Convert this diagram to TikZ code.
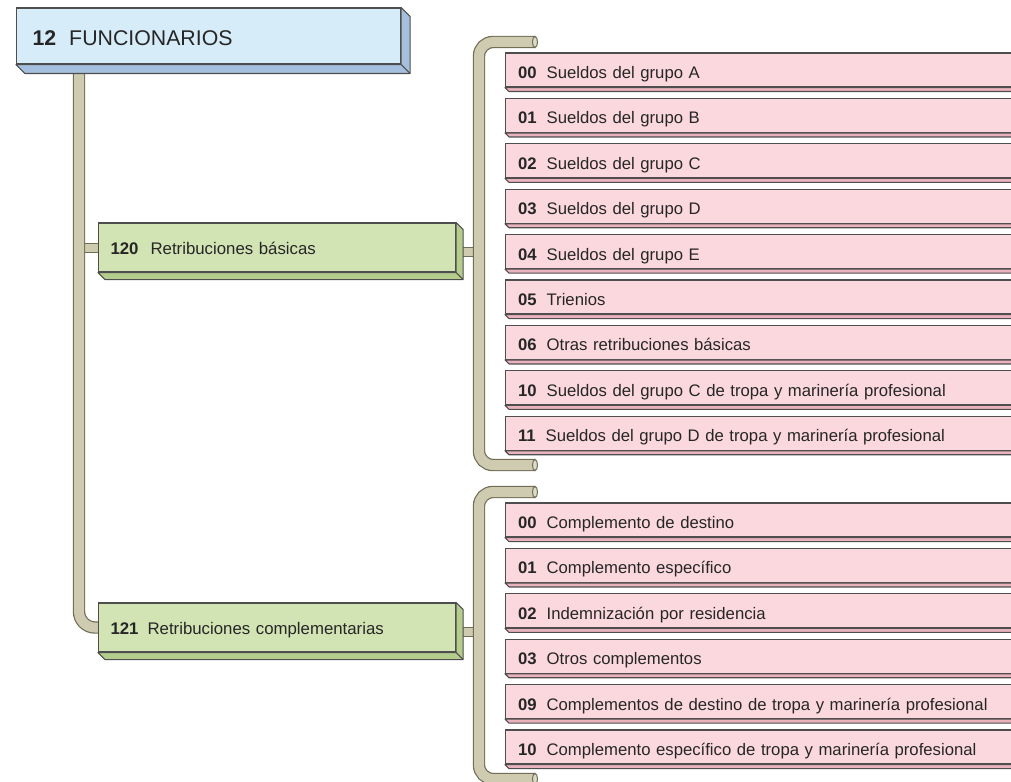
\documentclass[tikz,border=0pt]{standalone}
\usepackage{fontspec}
\setmainfont{Liberation Sans}
\usepackage{xcolor}
\usetikzlibrary{calc,backgrounds}
\definecolor{edgegray}{RGB}{78,78,78}
\definecolor{inkgray}{RGB}{38,38,38}
\definecolor{hdrface}{RGB}{214,236,248}
\definecolor{hdrside}{RGB}{164,192,222}
\definecolor{grpface}{RGB}{210,228,180}
\definecolor{grpside}{RGB}{180,204,140}
\definecolor{itemface}{RGB}{250,216,222}
\definecolor{itemside}{RGB}{234,178,188}
\definecolor{pipeedge}{RGB}{112,108,86}
\definecolor{pipefill}{RGB}{206,203,176}
\tikzset{
  hdrbox/.style={draw=edgegray, line width=1.1pt, fill=hdrface, anchor=west, align=left, text=inkgray,
    font=\fontsize{21.3}{24}\selectfont, minimum height=56pt, text width=352pt, inner xsep=16pt, inner ysep=0pt,
    text height=18.2pt, text depth=0pt},
  grpbox/.style={draw=edgegray, line width=1.1pt, fill=grpface, anchor=west, align=left, text=inkgray,
    font=\fontsize{16.8}{19}\selectfont, minimum height=49pt, text width=333pt, inner xsep=12pt, inner ysep=0pt,
    text height=13pt, text depth=0pt},
  itembox/.style={draw=edgegray, line width=1.1pt, fill=itemface, anchor=west, align=left, text=inkgray,
    font=\fontsize{16.7}{19}\selectfont, minimum height=34pt, text width=560pt, inner xsep=12.5pt, inner ysep=0pt,
    text height=17pt, text depth=0pt},
  pipe/.style={line width=1.2pt, draw=pipeedge, double=pipefill, double distance=10pt, rounded corners=14pt},
  stub/.style={line width=1pt, draw=pipeedge, double=pipefill, double distance=8pt},
  pipecap/.style={fill=pipefill!70!white, draw=pipeedge, line width=1pt}
}
% extruded side of a box: node, depth, colour
\newcommand{\bevel}[3]{%
  \filldraw[draw=edgegray, line width=1.1pt, fill=#3, line join=round]
    (#1.south west) -- ++(#2,#2) -- ([shift={(#2,#2)}]#1.south east) -- ([shift={(#2,#2)}]#1.north east)
    -- (#1.north east) -- (#1.south east) -- cycle;
  \draw[edgegray, line width=1.1pt] (#1.south east) -- ++(#2,#2);%
}
\begin{document}
\begin{tikzpicture}[x=1pt,y=-1pt]
  \useasboundingbox (0,0) rectangle (1011,781);
  \clip (0,0) rectangle (1011,781);

  % --- header ---
  \node[hdrbox] (hdr) at (16,36) {\textbf{12}\hspace{13pt}FUNCIONARIOS};
  \bevel{hdr}{9}{hdrside}

  % --- groups ---
  \node[grpbox] (g120) at (98,247.5) {\textbf{120}\hspace{12pt}Retribuciones básicas};
  \node[grpbox] (g121) at (98,627.5) {\textbf{121}\hspace{9pt}Retribuciones complementarias};
  \bevel{g120}{7}{grpside}
  \bevel{g121}{7}{grpside}

  % --- items of 120 ---
  \foreach \n/\t [count=\k from 0] in {00/Sueldos del grupo A, 01/Sueldos del grupo B, 02/Sueldos del grupo C,
      03/Sueldos del grupo D, 04/Sueldos del grupo E, 05/Trienios, 06/Otras retribuciones básicas,
      10/Sueldos del grupo C de tropa y marinería profesional, 11/Sueldos del grupo D de tropa y marinería profesional}{
    \node[itembox] (a\k) at (505,70+45.4*\k) {\textbf{\n}\hspace{10pt}\t};
    \bevel{a\k}{4}{itemside}
  }

  % --- items of 121 ---
  \foreach \n/\t [count=\k from 0] in {00/Complemento de destino, 01/Complemento específico,
      02/Indemnización por residencia, 03/Otros complementos,
      09/Complementos de destino de tropa y marinería profesional, 10/Complemento específico de tropa y marinería profesional}{
    \node[itembox] (b\k) at (505,520+45.4*\k) {\textbf{\n}\hspace{10pt}\t};
    \bevel{b\k}{4}{itemside}
  }

  % --- pipes ---
  \begin{scope}[on background layer]
    \coordinate (trunk) at (79,60);
    \coordinate (bx) at (479,0);
    \coordinate (g120r) at ([shift={(7,4)}]g120.east);
    \coordinate (g121r) at ([shift={(7,4)}]g121.east);
    \coordinate (b1top) at (535,42); \coordinate (b1bot) at (535,465);
    \coordinate (b2top) at (535,492); \coordinate (b2bot) at (535,779);
    \draw[stub] (trunk |- g120.west) -- (g120.west);
    \draw[stub] (g120r) -- (g120r -| bx); \draw[stub] (g121r) -- (g121r -| bx);
    \draw[pipe, rounded corners=16pt] (trunk) |- (g121.west);
    \draw[pipe] (b1top) -| (bx |- b1bot) -- (b1bot);
    \draw[pipe] (b2top) -| (bx |- b2bot) -- (b2bot);
    \draw[pipecap] (b1top) ellipse [x radius=2.5, y radius=5.6];
    \draw[pipecap] (b1bot) ellipse [x radius=2.5, y radius=5.6];
    \draw[pipecap] (b2top) ellipse [x radius=2.5, y radius=5.6];
    \draw[pipecap] (b2bot) ellipse [x radius=2.5, y radius=5.6];
  \end{scope}

\end{tikzpicture}
\end{document}
